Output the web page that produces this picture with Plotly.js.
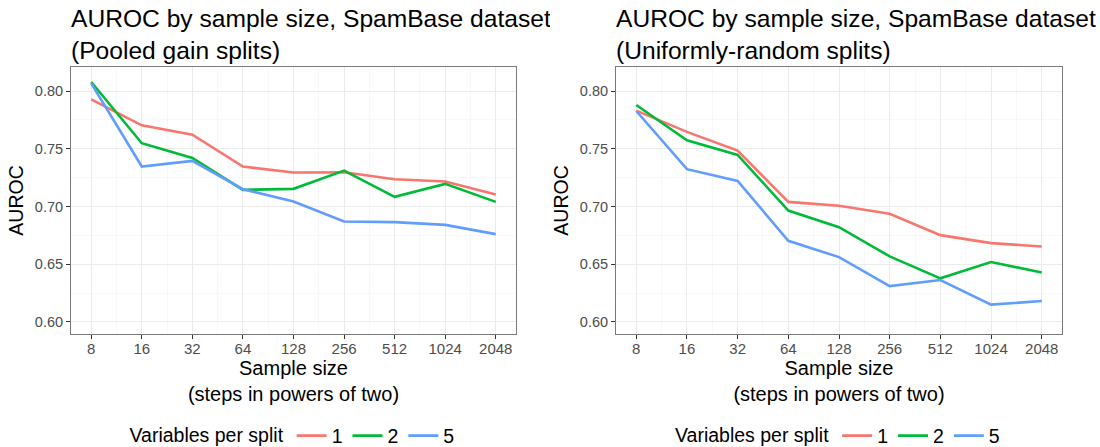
<!DOCTYPE html>
<html><head><meta charset="utf-8">
<script src="https://cdn.plot.ly/plotly-3.0.1.min.js"></script>
<style>
html,body{margin:0;padding:0;background:#fff;}
#wrap{position:relative;width:1100px;height:447px;overflow:hidden;}
#p1,#p2{position:absolute;top:0;width:550px;height:447px;overflow:hidden;}
#p1{left:0;} #p2{left:550px;}
</style></head>
<body><div id="wrap"><div id="p1"></div><div id="p2"></div></div>
<script>
const sampleSizes = [8, 16, 32, 64, 128, 256, 512, 1024, 2048];
const seriesNames = ["1", "2", "5"];
const seriesColors = ["#F8766D", "#00BA38", "#619CFF"];

// Pooled gain splits
const pooled_v1 = [0.7928, 0.7703, 0.7622, 0.7346, 0.7294, 0.7297, 0.7236, 0.7216, 0.7104];
const pooled_v2 = [0.8078, 0.7548, 0.7421, 0.7144, 0.7153, 0.7311, 0.7084, 0.7196, 0.7040];
const pooled_v5 = [0.8066, 0.7346, 0.7395, 0.7150, 0.7043, 0.6870, 0.6865, 0.6841, 0.6761];

// Uniformly-random splits
const uniform_v1 = [0.7830, 0.7646, 0.7484, 0.7040, 0.7006, 0.6937, 0.6752, 0.6683, 0.6654];
const uniform_v2 = [0.7879, 0.7573, 0.7447, 0.6965, 0.6821, 0.6568, 0.6378, 0.6519, 0.6429];
const uniform_v5 = [0.7827, 0.7323, 0.7222, 0.6703, 0.6562, 0.6311, 0.6363, 0.6150, 0.6182];

const titles = [
  "AUROC by sample size, SpamBase dataset<br>(Pooled gain splits)",
  "AUROC by sample size, SpamBase dataset<br>(Uniformly-random splits)"
];

const FONT = "Liberation Sans, Arial, Helvetica, sans-serif";
const xPos = sampleSizes.map(s => Math.log2(s));

function makePlot(div, series, title, ml, mr) {
  const traces = series.map((vals, i) => ({
    x: xPos, y: vals, type: "scatter", mode: "lines",
    name: seriesNames[i],
    line: {color: seriesColors[i], width: 2.6},
    showlegend: true
  }));
  const layout = {
    width: 550, height: 447,
    margin: {l: ml, r: mr, t: 67, b: 113, autoexpand: false},
    paper_bgcolor: "#fff", plot_bgcolor: "#fff",
    font: {family: FONT, color: "#000"},
    title: {text: title, x: 0, xref: "paper", xanchor: "left",
            y: 1, yref: "container", yanchor: "top", pad: {t: 27},
            font: {family: FONT, size: 24.6, color: "#000"}},
    xaxis: {
      range: [3 - 0.4, 11 + 0.4],
      tickmode: "array", tickvals: xPos, ticktext: sampleSizes.map(String),
      showgrid: true, gridcolor: "#EBEBEB", gridwidth: 1,
      minor: {tickmode: "linear", tick0: 3.5, dtick: 1, showgrid: true, gridcolor: "#F3F3F3", gridwidth: 0.6, ticks: ""},
      ticks: "outside", ticklen: 4, tickcolor: "#333", tickwidth: 1,
      ticklabelstandoff: -3,
      tickfont: {size: 15, color: "#4D4D4D", family: FONT},
      showline: true, linecolor: "#7a7a7a", linewidth: 1, mirror: true,
      zeroline: false, automargin: false,
      title: {text: "Sample size<br>(steps in powers of two)", standoff: 4,
              font: {size: 20, color: "#000", family: FONT}}
    },
    yaxis: {
      range: [0.5896, 0.8208],
      tickmode: "array", tickvals: [0.60, 0.65, 0.70, 0.75, 0.80],
      ticktext: ["0.60", "0.65", "0.70", "0.75", "0.80"],
      showgrid: true, gridcolor: "#EBEBEB", gridwidth: 1,
      minor: {tickmode: "linear", tick0: 0.575, dtick: 0.05, showgrid: true, gridcolor: "#F3F3F3", gridwidth: 0.6, ticks: ""},
      ticks: "outside", ticklen: 4, tickcolor: "#333", tickwidth: 1,
      tickfont: {size: 14.5, color: "#4D4D4D", family: FONT},
      showline: true, linecolor: "#7a7a7a", linewidth: 1, mirror: true,
      zeroline: false, automargin: false,
      title: {text: "AUROC", standoff: 6, font: {size: 19.5, color: "#000", family: FONT}}
    },
    legend: {
      orientation: "h", x: 0.5, xanchor: "center", y: -0.382, yanchor: "middle",
      title: {text: "Variables per split", side: "left", font: {size: 19.5, family: FONT, color: "#000"}},
      font: {size: 19.5, family: FONT, color: "#000"},
      itemwidth: 30, tracegroupgap: 0, bgcolor: "rgba(0,0,0,0)"
    },
    showlegend: true
  };
  Plotly.newPlot(div, traces, layout, {staticPlot: true, displayModeBar: false});
}

makePlot("p1", [pooled_v1, pooled_v2, pooled_v5], titles[0], 71, 34);
makePlot("p2", [uniform_v1, uniform_v2, uniform_v5], titles[1], 66, 38);
</script></body></html>
